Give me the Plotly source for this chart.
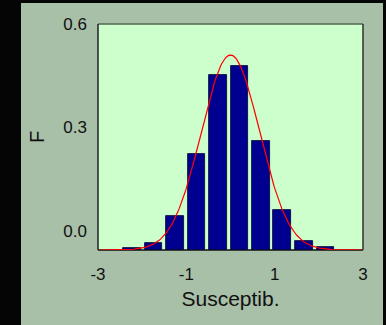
import numpy as np
import plotly.graph_objects as go

# Histogram bins (bin centres) and frequency tops
bin_centers = [-2.23, -1.74, -1.25, -0.77, -0.28, 0.20, 0.69, 1.17, 1.66, 2.15]
freq = [-0.049, -0.034, 0.044, 0.223, 0.453, 0.478, 0.261, 0.061, -0.028, -0.046]
bin_width = 0.40

# fitted normal curve parameters
fit_mean = 0.0
fit_sd = 0.66
fit_peak = 0.510

x_ticks = [-3, -1, 1, 3]
y_ticks = [0.0, 0.3, 0.6]
y_min, y_max = -0.055, 0.6

bar_len = [f - y_min for f in freq]
xc = np.linspace(-3, 3, 301)
yc = y_min + (fit_peak - y_min) * np.exp(-(xc - fit_mean) ** 2 / (2 * fit_sd ** 2))

FONT = "Liberation Sans, Arial, sans-serif"
fig = go.Figure()
fig.add_trace(go.Bar(x=bin_centers, y=bar_len, base=y_min, width=bin_width,
                     marker=dict(color="#000090", line=dict(color="#000030", width=0.8)),
                     showlegend=False, hoverinfo="skip"))
fig.add_trace(go.Scatter(x=xc, y=yc, mode="lines", line=dict(color="#ff0000", width=1.2),
                         showlegend=False, hoverinfo="skip"))

L, R, T, B = 98, 23, 24, 75
W, H = 386, 325
pw = W - L - R
ph = H - T - B
def px(v):
    return (v - L) / pw
def py(v):
    return 1 - (v - T) / ph

shapes = [
    dict(type="rect", xref="paper", yref="paper", x0=px(0), x1=px(21), y0=py(H + 5), y1=py(-5),
         fillcolor="#050505", line_width=0, layer="below"),
    dict(type="rect", xref="paper", yref="paper", x0=px(0), x1=px(W + 5), y0=py(3), y1=py(-5),
         fillcolor="#050505", line_width=0, layer="below"),
    dict(type="rect", xref="paper", yref="paper", x0=px(383), x1=px(W + 5), y0=py(H + 5), y1=py(-5),
         fillcolor="#050505", line_width=0, layer="below"),
    # frame
    dict(type="line", xref="paper", yref="paper", x0=0, x1=1, y0=1, y1=1,
         line=dict(color="#556655", width=1.5)),
    dict(type="line", xref="paper", yref="paper", x0=1, x1=1, y0=0, y1=1,
         line=dict(color="#303030", width=1.5)),
    dict(type="line", xref="paper", yref="paper", x0=0, x1=0, y0=0, y1=1,
         line=dict(color="#202020", width=1.5)),
    dict(type="line", xref="paper", yref="paper", x0=0, x1=1, y0=0, y1=0,
         line=dict(color="#101010", width=1.5), layer="below"),
]

fig.update_layout(
    width=W, height=H,
    margin=dict(l=L, r=R, t=T, b=B),
    paper_bgcolor="#a8bfa8",
    plot_bgcolor="#ccffcc",
    font=dict(family=FONT, size=17, color="#111111"),
    bargap=0,
    shapes=shapes,
    xaxis=dict(range=[-3, 3], tickvals=x_ticks, ticktext=[str(t) for t in x_ticks],
               showgrid=False, zeroline=False, showline=False, ticks="",
               ticklabelstandoff=12,
               title=dict(text="Susceptib.", font=dict(size=21), standoff=8)),
    yaxis=dict(range=[y_min, y_max], tickvals=y_ticks, ticktext=["%.1f" % t for t in y_ticks],
               showgrid=False, zeroline=False, showline=False, ticks="",
               ticklabelstandoff=10,
               title=dict(text="F", font=dict(size=20), standoff=13)),
)

fig.write_html("out.html")
